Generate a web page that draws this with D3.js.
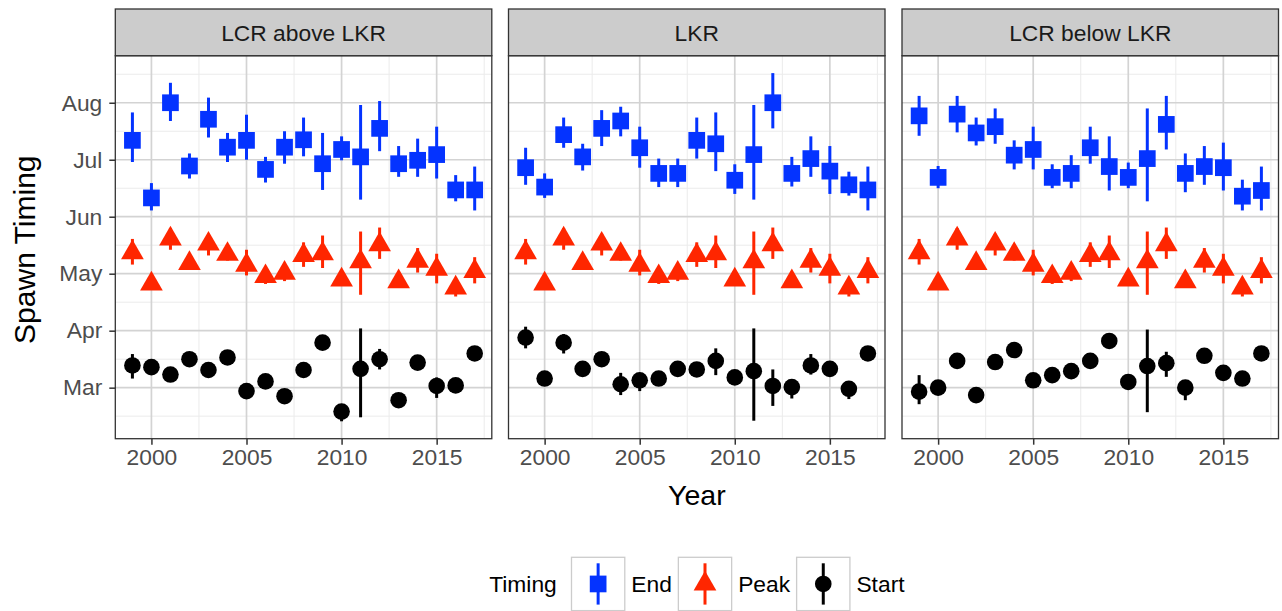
<!DOCTYPE html>
<html>
<head>
<meta charset="utf-8">
<script src="https://cdn.jsdelivr.net/npm/d3@7"></script>
<style>
  html, body { margin: 0; padding: 0; background: #ffffff; }
  svg { display: block; font-family: "Liberation Sans", Arial, Helvetica, sans-serif; }
</style>
</head>
<body>
<svg id="chart" width="1282" height="611"></svg>
<script>
// Spawn timing (month as a number: 3 = Mar ... 8 = Aug) by year and reach.
const years = [1999, 2000, 2001, 2002, 2003, 2004, 2005, 2006, 2007, 2008,
               2009, 2010, 2011, 2012, 2013, 2014, 2015, 2016, 2017];
const reaches = ["LCR above LKR", "LKR", "LCR below LKR"];
const timings = ["End", "Peak", "Start"];
const timingColors = ["#0433ff", "#ff2600", "#000000"];
const monthTicks = [3, 4, 5, 6, 7, 8];
const monthLabels = ["Mar", "Apr", "May", "Jun", "Jul", "Aug"];
const yearTicks = [2000, 2005, 2010, 2015];

// LCR above LKR
const aboveEnd   = [7.34, 6.33, 8.00, 6.89, 7.71, 7.22, 7.34, 6.83, 7.22, 7.35, 6.93, 7.18, 7.05, 7.55, 6.93, 6.99, 7.09, 6.47, 6.47];
const aboveEndLo = [6.96, 6.11, 7.68, 6.67, 7.39, 6.96, 7.00, 6.60, 6.93, 7.06, 6.47, 6.99, 6.30, 7.15, 6.70, 6.70, 6.67, 6.27, 6.11];
const aboveEndHi = [7.83, 6.59, 8.35, 7.11, 8.09, 7.47, 7.79, 7.05, 7.50, 7.74, 7.47, 7.41, 7.96, 8.03, 7.24, 7.37, 7.58, 6.73, 6.88];
const aboveStart   = [3.39, 3.36, 3.23, 3.50, 3.31, 3.53, 2.94, 3.11, 2.85, 3.31, 3.79, 2.58, 3.33, 3.50, 2.78, 3.44, 3.03, 3.04, 3.60];
const aboveStartLo = [3.16, 3.29, 3.16, 3.43, 3.24, 3.46, 2.87, 3.04, 2.78, 3.24, 3.72, 2.41, 2.48, 3.32, 2.71, 3.37, 2.82, 2.97, 3.53];
const aboveStartHi = [3.59, 3.43, 3.30, 3.57, 3.38, 3.60, 3.01, 3.18, 2.92, 3.38, 3.86, 2.70, 4.04, 3.68, 2.85, 3.51, 3.18, 3.11, 3.67];

// LKR
const lkrEnd   = [6.86, 6.52, 7.44, 7.05, 7.55, 7.68, 7.21, 6.76, 6.76, 7.34, 7.28, 6.64, 7.09, 8.00, 6.76, 7.02, 6.80, 6.56, 6.47];
const lkrEndLo = [6.56, 6.33, 7.21, 6.81, 7.24, 7.41, 6.86, 6.52, 6.52, 7.02, 6.80, 6.40, 6.30, 7.55, 6.53, 6.70, 6.40, 6.37, 6.11];
const lkrEndHi = [7.21, 6.76, 7.74, 7.28, 7.87, 7.93, 7.58, 7.02, 7.02, 7.74, 7.83, 6.92, 7.96, 8.52, 7.05, 7.41, 7.24, 6.79, 6.88];
const lkrStart   = [3.88, 3.16, 3.79, 3.33, 3.50, 3.06, 3.13, 3.16, 3.33, 3.32, 3.47, 3.18, 3.29, 3.03, 3.01, 3.39, 3.33, 2.98, 3.60];
const lkrStartLo = [3.69, 3.09, 3.60, 3.26, 3.43, 2.87, 2.94, 3.09, 3.26, 3.25, 3.22, 3.11, 2.42, 2.68, 2.81, 3.23, 3.26, 2.80, 3.53];
const lkrStartHi = [4.07, 3.23, 3.94, 3.40, 3.57, 3.26, 3.25, 3.23, 3.40, 3.39, 3.69, 3.25, 4.04, 3.32, 3.10, 3.59, 3.40, 3.08, 3.67];

// LCR below LKR
const belowEnd   = [7.77, 6.69, 7.80, 7.47, 7.58, 7.08, 7.18, 6.69, 6.76, 7.21, 6.88, 6.69, 7.02, 7.62, 6.76, 6.88, 6.86, 6.36, 6.46];
const belowEndLo = [7.42, 6.50, 7.48, 7.25, 7.28, 6.83, 6.83, 6.50, 6.50, 6.93, 6.46, 6.50, 6.27, 7.18, 6.43, 6.56, 6.46, 6.11, 6.11];
const belowEndHi = [8.12, 6.89, 8.12, 7.74, 7.90, 7.34, 7.58, 6.92, 7.08, 7.58, 7.41, 6.95, 7.90, 8.12, 7.11, 7.24, 7.30, 6.65, 6.88];
const belowStart   = [2.93, 3.00, 3.47, 2.87, 3.45, 3.66, 3.13, 3.22, 3.29, 3.47, 3.82, 3.10, 3.38, 3.43, 3.00, 3.56, 3.26, 3.16, 3.60];
const belowStartLo = [2.71, 2.93, 3.40, 2.80, 3.38, 3.59, 3.06, 3.15, 3.22, 3.40, 3.75, 3.03, 2.57, 3.19, 2.78, 3.49, 3.19, 3.09, 3.53];
const belowStartHi = [3.22, 3.07, 3.54, 2.94, 3.52, 3.73, 3.20, 3.29, 3.36, 3.54, 3.89, 3.17, 4.02, 3.63, 3.07, 3.63, 3.33, 3.23, 3.67];

// Peak timing is the same in all three reaches
const peak   = [5.37, 4.82, 5.61, 5.18, 5.52, 5.34, 5.15, 4.95, 5.01, 5.32, 5.35, 4.89, 5.21, 5.51, 4.86, 5.22, 5.08, 4.75, 5.04];
const peakLo = [5.16, 4.75, 5.42, 5.08, 5.32, 5.23, 4.97, 4.82, 4.87, 5.12, 5.10, 4.80, 4.63, 5.26, 4.76, 5.02, 4.83, 4.60, 4.83];
const peakHi = [5.61, 4.90, 5.80, 5.30, 5.70, 5.50, 5.42, 5.10, 5.15, 5.55, 5.67, 5.00, 5.74, 5.81, 5.00, 5.45, 5.35, 4.90, 5.29];

const seriesByReach = [
  [[aboveEnd, aboveEndLo, aboveEndHi], [peak, peakLo, peakHi], [aboveStart, aboveStartLo, aboveStartHi]],
  [[lkrEnd, lkrEndLo, lkrEndHi], [peak, peakLo, peakHi], [lkrStart, lkrStartLo, lkrStartHi]],
  [[belowEnd, belowEndLo, belowEndHi], [peak, peakLo, peakHi], [belowStart, belowStartLo, belowStartHi]]
];

// ---------- layout ----------
const svg = d3.select("#chart");
const panelLefts = [115.3, 508.5, 902];
const panelW = 376.5;
const stripTop = 9, panelTop = 55.7, panelBottom = 438.7;
const smallFont = 22.8, titleFont = 28.5, yTitleFont = 30;

// ggplot-style 5% expansion of the data range
const allLo = d3.min(seriesByReach.flat().map(s => d3.min(s[1])));
const allHi = d3.max(seriesByReach.flat().map(s => d3.max(s[2])));
const yPad = (allHi - allLo) * 0.05;
const y = d3.scaleLinear().domain([allLo - yPad, allHi + yPad]).range([panelBottom, panelTop]);
const xPad = (d3.max(years) - d3.min(years)) * 0.05;

// point shapes
function drawShape(g, kind, cx, cy, color) {
  if (kind === 0) {
    const s = 16.7;
    g.append("rect").attr("x", cx - s / 2).attr("y", cy - s / 2)
      .attr("width", s).attr("height", s).attr("fill", color);
  } else if (kind === 1) {
    const r = 13.1, hw = r * Math.sqrt(3) / 2;
    g.append("path")
      .attr("d", `M${cx},${cy - r}L${cx + hw},${cy + r / 2}L${cx - hw},${cy + r / 2}Z`)
      .attr("fill", color);
  } else {
    g.append("circle").attr("cx", cx).attr("cy", cy).attr("r", 8.3).attr("fill", color);
  }
}

reaches.forEach((reach, pi) => {
  const left = panelLefts[pi];
  const x = d3.scaleLinear()
    .domain([d3.min(years) - xPad, d3.max(years) + xPad])
    .range([left, left + panelW]);
  const g = svg.append("g");

  // panel background
  g.append("rect").attr("x", left).attr("y", panelTop)
    .attr("width", panelW).attr("height", panelBottom - panelTop).attr("fill", "#ffffff");

  // minor grid
  const yMinor = monthTicks.map(m => m - 0.5).concat([d3.max(monthTicks) + 0.5])
    .filter(v => v >= y.domain()[0] && v <= y.domain()[1]);
  const xMinor = yearTicks.map(v => v - 2.5).concat([d3.max(yearTicks) + 2.5])
    .filter(v => v >= x.domain()[0] && v <= x.domain()[1]);
  g.selectAll(null).data(yMinor).enter().append("line")
    .attr("x1", left).attr("x2", left + panelW)
    .attr("y1", d => y(d)).attr("y2", d => y(d))
    .attr("stroke", "#ebebeb").attr("stroke-width", 1);
  g.selectAll(null).data(xMinor).enter().append("line")
    .attr("x1", d => x(d)).attr("x2", d => x(d))
    .attr("y1", panelTop).attr("y2", panelBottom)
    .attr("stroke", "#ebebeb").attr("stroke-width", 1);

  // major grid
  g.selectAll(null).data(monthTicks).enter().append("line")
    .attr("x1", left).attr("x2", left + panelW)
    .attr("y1", d => y(d)).attr("y2", d => y(d))
    .attr("stroke", "#d3d3d3").attr("stroke-width", 1.7);
  g.selectAll(null).data(yearTicks).enter().append("line")
    .attr("x1", d => x(d)).attr("x2", d => x(d))
    .attr("y1", panelTop).attr("y2", panelBottom)
    .attr("stroke", "#d3d3d3").attr("stroke-width", 1.7);

  // point ranges
  seriesByReach[pi].forEach((s, si) => {
    const [mid, lo, hi] = s;
    const color = timingColors[si];
    years.forEach((yr, i) => {
      g.append("line")
        .attr("x1", x(yr)).attr("x2", x(yr))
        .attr("y1", y(lo[i])).attr("y2", y(hi[i]))
        .attr("stroke", color).attr("stroke-width", 3);
      drawShape(g, si, x(yr), y(mid[i]), color);
    });
  });

  // panel border
  g.append("rect").attr("x", left).attr("y", panelTop)
    .attr("width", panelW).attr("height", panelBottom - panelTop)
    .attr("fill", "none").attr("stroke", "#333333").attr("stroke-width", 1.3);

  // strip
  g.append("rect").attr("x", left).attr("y", stripTop)
    .attr("width", panelW).attr("height", panelTop - stripTop)
    .attr("fill", "#cccccc").attr("stroke", "#333333").attr("stroke-width", 1.3);
  g.append("text").attr("x", left + panelW / 2).attr("y", (stripTop + panelTop) / 2)
    .attr("dy", "0.36em").attr("text-anchor", "middle")
    .attr("font-size", smallFont).attr("fill", "#1a1a1a").text(reach);

  // x axis
  const xAxis = d3.axisBottom(x).tickValues(yearTicks).tickFormat(d3.format("d"))
    .tickSize(6).tickPadding(4);
  const xg = g.append("g").attr("transform", `translate(0,${panelBottom})`).call(xAxis);
  xg.select(".domain").remove();
  xg.selectAll(".tick line").attr("stroke", "#333333").attr("stroke-width", 1.5);
  xg.selectAll(".tick text").attr("fill", "#4d4d4d").attr("font-size", smallFont)
    .attr("font-family", null);

  // y axis on first panel only
  if (pi === 0) {
    const yAxis = d3.axisLeft(y).tickValues(monthTicks)
      .tickFormat((d, i) => monthLabels[i]).tickSize(6).tickPadding(7);
    const yg = g.append("g").attr("transform", `translate(${left},0)`).call(yAxis);
    yg.select(".domain").remove();
    yg.selectAll(".tick line").attr("stroke", "#333333").attr("stroke-width", 1.5);
    yg.selectAll(".tick text").attr("fill", "#4d4d4d").attr("font-size", smallFont)
      .attr("font-family", null);
  }
});

// axis titles
const plotCenterX = (panelLefts[0] + panelLefts[2] + panelW) / 2;
svg.append("text").attr("x", plotCenterX).attr("y", 505)
  .attr("text-anchor", "middle").attr("font-size", titleFont).attr("fill", "#000")
  .text("Year");
svg.append("text")
  .attr("transform", `translate(34.5,${(panelTop + panelBottom) / 2 + 2.5}) rotate(-90)`)
  .attr("text-anchor", "middle").attr("font-size", yTitleFont).attr("fill", "#000")
  .text("Spawn Timing");

// legend
const legend = svg.append("g");
const keySize = 53.3, keyTop = 557.3, legendMidY = keyTop + keySize / 2;
const title = legend.append("text").attr("y", legendMidY).attr("dy", "0.36em")
  .attr("font-size", smallFont).attr("fill", "#000").text("Timing");
let cursor = title.node().getComputedTextLength() + 14.7;
timings.forEach((t, i) => {
  const kx = cursor;
  legend.append("rect").attr("x", kx).attr("y", keyTop)
    .attr("width", keySize).attr("height", keySize)
    .attr("fill", "#ffffff").attr("stroke", "#cccccc").attr("stroke-width", 1.3);
  const kg = legend.append("g");
  kg.append("line").attr("x1", kx + keySize / 2).attr("x2", kx + keySize / 2)
    .attr("y1", keyTop + 6).attr("y2", keyTop + keySize - 6)
    .attr("stroke", timingColors[i]).attr("stroke-width", 3);
  drawShape(kg, i, kx + keySize / 2, legendMidY, timingColors[i]);
  const lbl = legend.append("text").attr("x", kx + keySize + 6.5).attr("y", legendMidY)
    .attr("dy", "0.36em").attr("font-size", smallFont).attr("fill", "#000").text(t);
  cursor = kx + keySize + 6.5 + lbl.node().getComputedTextLength() + 6.5;
});
const legendWidth = cursor - 6.5;
legend.attr("transform", `translate(${plotCenterX - legendWidth / 2},0)`);
</script>
</body>
</html>
